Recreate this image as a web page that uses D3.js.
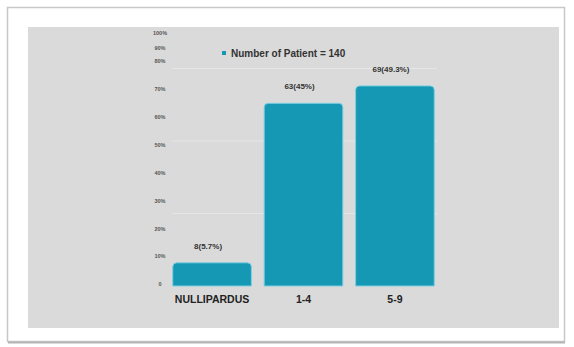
<!DOCTYPE html>
<html><head><meta charset="utf-8">
<script src="https://cdn.jsdelivr.net/npm/d3@7"></script>
<style>html,body{margin:0;padding:0;background:#fff;}svg{display:block;}</style>
</head><body>
<svg id="c" width="574" height="347"></svg>
<script>
const categories = ["NULLIPARDUS", "1-4", "5-9"];
const counts = [8, 63, 69];
const valueLabels = ["8(5.7%)", "63(45%)", "69(49.3%)"];
const axisTicks = [0, 10, 20, 30, 40, 50, 60, 70, 80, 90, 100];
const axisTickLabels = ["0", "10%", "20%", "30%", "40%", "50%", "60%", "70%", "80%", "90%", "100%"];
const gridValues = [25, 50, 75];
const legendText = "Number of Patient = 140";

const svg = d3.select("#c");
// outer card with border shadow
svg.append("rect").attr("x", 7.5).attr("y", 7.5).attr("width", 557).attr("height", 334)
  .attr("fill", "#fff").attr("stroke", "#c8c8c8").attr("stroke-width", 1.5);
svg.append("line").attr("x1", 8).attr("x2", 565).attr("y1", 342.5).attr("y2", 342.5).attr("stroke", "#b5b5b5").attr("stroke-width", 2);
// gray panel
svg.append("rect").attr("x", 28).attr("y", 27).attr("width", 531).attr("height", 301).attr("fill", "#dadada");

const x = d3.scaleBand().domain(categories).range([170, 437]).paddingInner(0.14).paddingOuter(0.03);
const y = d3.scaleLinear().domain([0, 80]).range([286, 54]);
const yAxisScale = d3.scaleLinear().domain([0, 80, 90, 100]).range([284, 61, 48, 33]);

// faint gridlines
svg.append("g").selectAll("line").data(gridValues).join("line")
  .attr("x1", 172).attr("x2", 437)
  .attr("y1", d => y(d)).attr("y2", d => y(d))
  .attr("stroke", "#e6e6e6").attr("stroke-width", 1);

// y axis labels (no line)
const ax = svg.append("g").attr("transform", "translate(162,0)")
  .call(d3.axisLeft(yAxisScale).tickValues(axisTicks).tickSize(0).tickPadding(0)
    .tickFormat((d, i) => axisTickLabels[i]));
ax.select(".domain").remove();
ax.selectAll("text").attr("text-anchor", "middle").attr("x", -2)
  .attr("font-family", "Liberation Sans, Arial, sans-serif").attr("font-size", 5.5)
  .attr("font-weight", "bold").attr("fill", "#555");

// bars with rounded top corners
function topRounded(x0, y0, w, h, r) {
  r = Math.min(r, h / 2, w / 2);
  return `M${x0},${y0 + h}V${y0 + r}Q${x0},${y0} ${x0 + r},${y0}H${x0 + w - r}Q${x0 + w},${y0} ${x0 + w},${y0 + r}V${y0 + h}Z`;
}
svg.append("g").selectAll("path").data(categories).join("path")
  .attr("d", (c, i) => topRounded(x(c), y(counts[i]), x.bandwidth(), y(0) - y(counts[i]), 4))
  .attr("fill", "#1598b4").attr("stroke", "#7ccfe2").attr("stroke-width", 1);

// value labels
svg.append("g").selectAll("text").data(categories).join("text")
  .attr("x", c => x(c) + x.bandwidth() / 2 - 4)
  .attr("y", (c, i) => y(counts[i]) - 14)
  .attr("text-anchor", "middle")
  .attr("font-family", "Liberation Sans, Arial, sans-serif").attr("font-size", 8)
  .attr("font-weight", "bold").attr("fill", "#333")
  .text((c, i) => valueLabels[i]);

// category labels
svg.append("g").selectAll("text").data(categories).join("text")
  .attr("x", c => x(c) + x.bandwidth() / 2)
  .attr("y", 303)
  .attr("text-anchor", "middle")
  .attr("font-family", "Liberation Sans, Arial, sans-serif").attr("font-size", 10.5)
  .attr("font-weight", "bold").attr("fill", "#222")
  .text(c => c);

// legend
svg.append("rect").attr("x", 222).attr("y", 51).attr("width", 4).attr("height", 4).attr("fill", "#1598b4");
svg.append("text").attr("x", 231).attr("y", 56.5)
  .attr("font-family", "Liberation Sans, Arial, sans-serif").attr("font-size", 10)
  .attr("font-weight", "bold").attr("fill", "#333").text(legendText);
</script>
</body></html>
